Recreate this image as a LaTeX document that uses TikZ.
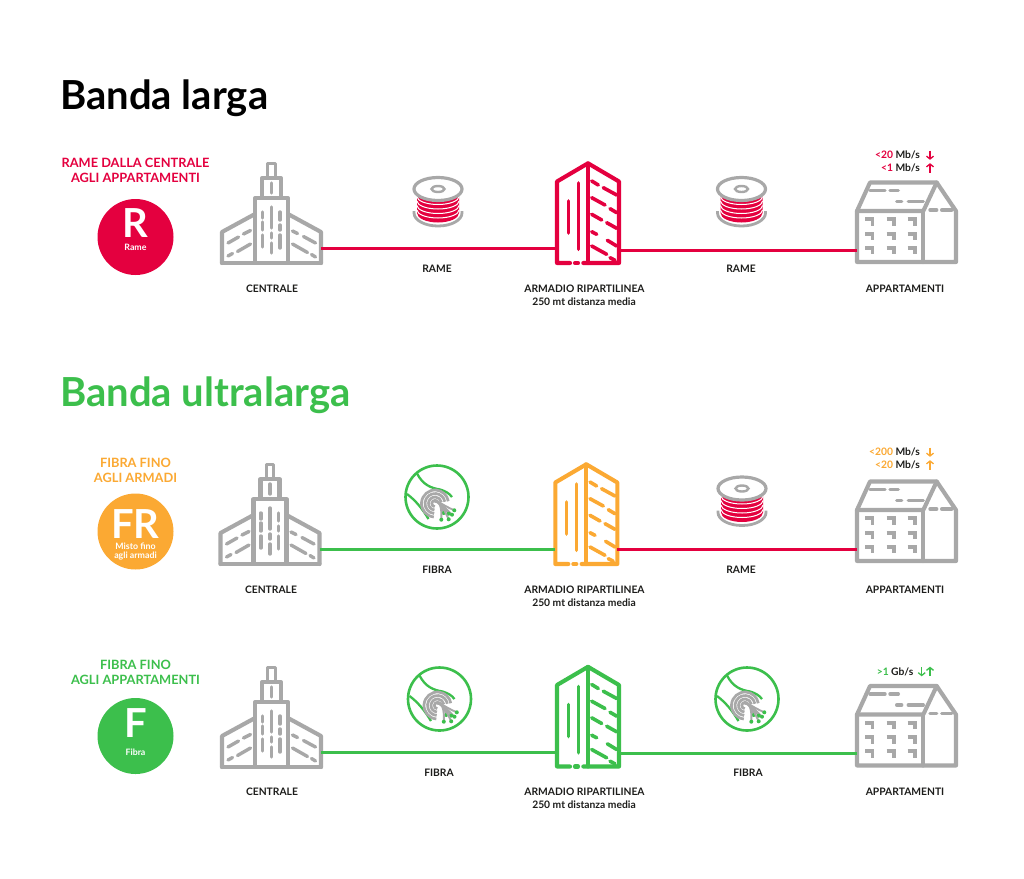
\documentclass[tikz,border=0pt]{standalone}
\usepackage{fontspec}
\setmainfont{Lato}
\usetikzlibrary{arrows.meta}
\definecolor{rosso}{HTML}{E4003F}
\definecolor{verde}{HTML}{3CBF4C}
\definecolor{arancio}{HTML}{FBA933}
\definecolor{grigio}{HTML}{A8A8A8}
\definecolor{nero}{HTML}{1D1D1B}
\tikzset{
  icon/.style={line width=4.1pt, line join=round, line cap=round},
  wire/.style={line width=3pt},
  lbl/.style={font=\fontsize{10.3}{12}\selectfont\bfseries, text=nero, inner sep=0pt},
  head/.style={font=\fontsize{12.8}{15}\selectfont\bfseries, inner sep=0pt},
  speed/.style={font=\fontsize{10.3}{12}\selectfont\bfseries, text=nero, inner sep=0pt, anchor=east},
  badge/.style={circle, minimum size=76pt, inner sep=0pt},
  letter/.style={text=white, font=\fontsize{40}{40}\selectfont\bfseries, inner sep=0pt, text depth=0pt},
  sublbl/.style={text=white, font=\fontsize{8.8}{10}\selectfont\bfseries, inner sep=0pt},
  title/.style={font=\fontsize{40}{46}\selectfont\bfseries, anchor=base west, inner sep=0pt},
  pics/centrale/.style={code={
    \draw[icon, grigio] (-16.5,0) rectangle (16.5,-65);
    \draw[icon, grigio] (-9.5,-65) rectangle (9.5,-85);
    \draw[icon, grigio, line width=3.2pt] (-3.7,-85) rectangle (3.7,-99.5);
    \draw[icon, grigio] (-49.5,0) -- (49.5,0);
    \draw[icon, grigio] (-16.5,-49) -- (-49.5,-31) -- (-49.5,0);
    \draw[icon, grigio] (16.5,-49) -- (49.5,-31) -- (49.5,0);
    \foreach \xa/\ya/\yb in {-9.2/-51/-45, -9.2/-41/-33, -9.2/-28/-16, 0/-56/-35, 0/-30/-25, 0/-20/-10, 8.5/-51/-43, 8.5/-38/-33, 8.5/-28/-15, 0/-80/-70}
      \draw[icon, grigio, line width=3.4pt] (\xa,\ya) -- (\xa,\yb);
    \foreach \xa/\ya/\xb/\yb in {-43.5/-20/-33/-26, -28/-29/-21/-32.5, -43.5/-7/-39/-9.5, -34/-11.5/-21/-19, 21/-32/26/-29.5, 32/-26.5/44/-20, 21/-19/36/-10.5, 40/-8.5/44/-6}
      \draw[icon, grigio, line width=3.4pt] (\xa,\ya) -- (\xb,\yb);
    \coordinate (-e) at (49.5,-15);
  }},
  pics/armadio/.style={code={
    \draw[icon, #1] (-18,0) -- (-31,0) -- (-31,-81.5) -- (0,-99.7) -- (31,-81.5) -- (31,0) -- (-4.7,0);
    \draw[icon, #1] (-13,0) -- (-10,0);
    \draw[icon, #1] (0,-99.7) -- (0,0);
    \draw[icon, #1, line width=3.6pt] (-19.7,-62) -- (-19.7,-30);
    \draw[icon, #1, line width=3.6pt] (-9.7,-80) -- (-9.7,-13.7);
    \foreach \xa/\ya/\xb/\yb in {3.7/-82/10.3/-78, 15.3/-75.3/28.7/-68, 3.7/-65.3/17/-58, 22/-54.3/28.7/-50.3, 3.7/-48.7/13.7/-43, 18.7/-40.3/28.7/-34.7, 3.7/-31.3/8.7/-28.7, 19.3/-22.7/28.7/-17, 3.7/-17/18.7/-8.7, 22/-5.3/27/-2.7}
      \draw[icon, #1, line width=3.6pt] (\xa,\ya) -- (\xb,\yb);
    \coordinate (-w) at (-31,-15);
    \coordinate (-e) at (31,-13);
  }},
  pics/appartamenti/.style={code={
    \draw[icon, grigio] (-48,-51) -- (-35,-79.5) -- (31.7,-79.5) -- (51,-51) -- (51,0) -- (-48,0) -- cycle;
    \draw[icon, grigio] (-48,-51) -- (18.3,-51) -- (31.7,-79.5);
    \draw[icon, grigio] (18.3,-51) -- (18.3,0);
    \foreach \xa/\ya/\xb/\yb in {25/-52/31.7/-52, 36.7/-52/46.7/-52, -35/-71.5/-20/-71.5, -15/-71.5/-6.7/-71.5, -8.3/-60.5/-3.3/-60.5, 3.3/-60.5/18.3/-60.5}
      \draw[icon, grigio, line width=3.4pt] (\xa,\ya) -- (\xb,\yb);
    \foreach \xa in {-40,-18.3,2.7}
      \foreach \ya in {-42.7,-28.3,-14.3}
        \draw[icon, grigio, line cap=butt, line join=miter, line width=3.8pt] (\xa,\ya) -- (\xa+7.5,\ya) -- (\xa+7.5,\ya+6.5);
    \coordinate (-w) at (-48,-12);
  }},
  pics/bobina/.style={code={
    \draw[grigio, line width=2.8pt] (-24,7) -- (-24,9) arc[start angle=180, end angle=0, x radius=24, y radius=13] -- (24,7);
    \fill[rosso] (-21,-16) -- (-21,9) arc[start angle=180, end angle=0, x radius=21, y radius=9.5] -- (21,-16) -- cycle;
    \foreach \ya in {-8,-3.5,1,5.5,10}
      \draw[white, line width=1pt] (-21,\ya-4) arc[start angle=180, end angle=0, x radius=21, y radius=8];
    \draw[grigio, line width=3.2pt, fill=white] (0,-15) ellipse (24 and 11.5);
    \draw[grigio, line width=2.4pt] (0,-15) ellipse (6.5 and 3);
  }},
  pics/fibra/.style={code={
    \draw[verde, line width=2.6pt] (0,0) circle (31.5);
    \draw[verde, line width=2.3pt] (-20,-23.5) .. controls (-14,-12) and (-6,-9) .. (3,-7.5) .. controls (8,-6) and (12,-4) .. (15,0);
    \draw[verde, line width=2.3pt] (-30,-3) .. controls (-22,3) and (-15,11) .. (-8.5,22);
    \foreach \rr in {13.5,10,6.5,3.2}
      \draw[grigio, line width=2.7pt] (-2,6.5) ++(95:\rr) arc[start angle=95, end angle=350, radius=\rr];
    \foreach \xb/\yb in {17.3/13.3, 15/17.7, 11.7/16.7, 6.7/16, 11.7/22.3, 4.3/22.7} {
      \draw[grigio, line width=1.9pt] (-3,4) .. controls (2,4) and (5,8) .. (\xb,\yb);
      \fill[verde] (\xb,\yb) circle (2);
    }
  }},
  pics/giu/.style={code={
    \draw[#1, line width=1.3pt, -{Straight Barb[length=2.8pt,width=7pt]}] (0,-4.5) -- (0,4.8);
  }},
  pics/su/.style={code={
    \draw[#1, line width=1.3pt, -{Straight Barb[length=2.8pt,width=7pt]}] (0,4.5) -- (0,-4.8);
  }},
}

\begin{document}
\begin{tikzpicture}[x=1pt, y=-1pt]
  \useasboundingbox[fill=white] (0,0) rectangle (1024,878);

  % Titles
  \node[title, text=black] (titleA) at (60,109) {Banda larga};
  \node[title, text=verde] (titleB) at (60,406) {Banda ultralarga};

  % Icons of the three rows
  \foreach \n/\xc/\yc in {A/271.5/263, B/270/564, C/271.5/767}
    \pic (cen\n) at (\xc,\yc) {centrale};
  \foreach \n/\xc/\yc/\col in {A/588/263/rosso, B/586.3/564/arancio, C/588/766.5/verde}
    \pic (arm\n) at (\xc,\yc) {armadio=\col};
  \foreach \n/\yc in {A/262, B/561, C/765.5}
    \pic (app\n) at (905,\yc) {appartamenti};
  \pic (bobA) at (438,204) {bobina};
  \pic (bobB) at (741.5,204) {bobina};
  \pic (bobC) at (742,503.5) {bobina};
  \pic (fibA) at (437,497) {fibra};
  \pic (fibB) at (439.5,699) {fibra};
  \pic (fibC) at (747,699) {fibra};
  \coordinate (armB-e) at (armB-w -| armB-e);

  % Lines
  \draw[wire, rosso] (cenA-e) -- (cenA-e -| armA-w);
  \draw[wire, rosso] (armA-e) -- (armA-e -| appA-w);
  \draw[wire, verde] (cenB-e) -- (cenB-e -| armB-w);
  \draw[wire, rosso] (armB-e) -- (armB-e -| appB-w);
  \draw[wire, verde] (cenC-e) -- (cenC-e -| armC-w);
  \draw[wire, verde] (armC-e) -- (armC-e -| appC-w);

  % Labels under the icons
  \foreach \n/\xc/\yc/\t in {a/272/289/CENTRALE, b/437/269/RAME, c/741/269/RAME, d/905/289/APPARTAMENTI,
      e/271/590/CENTRALE, f/437/570/FIBRA, g/741/570/RAME, h/905/590/APPARTAMENTI,
      i/272/792/CENTRALE, j/439/773/FIBRA, k/748/773/FIBRA, l/905/792/APPARTAMENTI}
    \node[lbl] (lbl\n) at (\xc,\yc) {\t};
  \foreach \n/\yc in {a/289, b/590, c/792} {
    \node[lbl] (arm\n) at (584.5,\yc) {ARMADIO RIPARTILINEA};
    \node[lbl] (dist\n) at (584,\yc+12.5) {250 mt distanza media};
  }

  % Badges
  \node[head, text=rosso] (headA) at (135.5,163) {RAME DALLA CENTRALE};
  \node[head, text=rosso] (headAb) at (135.5,178) {AGLI APPARTAMENTI};
  \node[head, text=arancio] (headB) at (135.5,463) {FIBRA FINO};
  \node[head, text=arancio] (headBb) at (135.5,478) {AGLI ARMADI};
  \node[head, text=verde] (headC) at (135.5,665) {FIBRA FINO};
  \node[head, text=verde] (headCb) at (135.5,680) {AGLI APPARTAMENTI};

  \node[badge, fill=rosso] (badgeA) at (135.5,237) {};
  \node[badge, fill=arancio] (badgeB) at (135.5,531.5) {};
  \node[badge, fill=verde] (badgeC) at (135.5,736) {};
  \node[letter] (letA) at (135.5,223.5) {R};
  \node[letter] (letB) at (135.5,524) {FR};
  \node[letter] (letC) at (135.5,723.5) {F};
  \node[sublbl] (subA) at (135.5,247.5) {Rame};
  \node[sublbl] (subB) at (135.5,546.5) {Misto fino};
  \node[sublbl] (subBb) at (135.5,556) {agli armadi};
  \node[sublbl] (subC) at (135.5,752) {Fibra};

  % Speeds
  \node[speed] (spdA) at (920,155) {\textcolor{rosso}{<20} Mb/s};
  \node[speed] (spdAb) at (920,168) {\textcolor{rosso}{<1} Mb/s};
  \node[speed] (spdB) at (920,452) {\textcolor{arancio}{<200} Mb/s};
  \node[speed] (spdBb) at (920,465) {\textcolor{arancio}{<20} Mb/s};
  \node[speed] (spdC) at (913.5,671.5) {\textcolor{verde}{>1} Gb/s};
  \pic (freA) at (930,155) {giu=rosso};
  \pic (freAb) at (930,168) {su=rosso};
  \pic (freB) at (930,452) {giu=arancio};
  \pic (freBb) at (930,465) {su=arancio};
  \pic (freC) at (921.7,671.5) {giu=verde};
  \pic (freCb) at (930,671.5) {su=verde};
\end{tikzpicture}
\end{document}
